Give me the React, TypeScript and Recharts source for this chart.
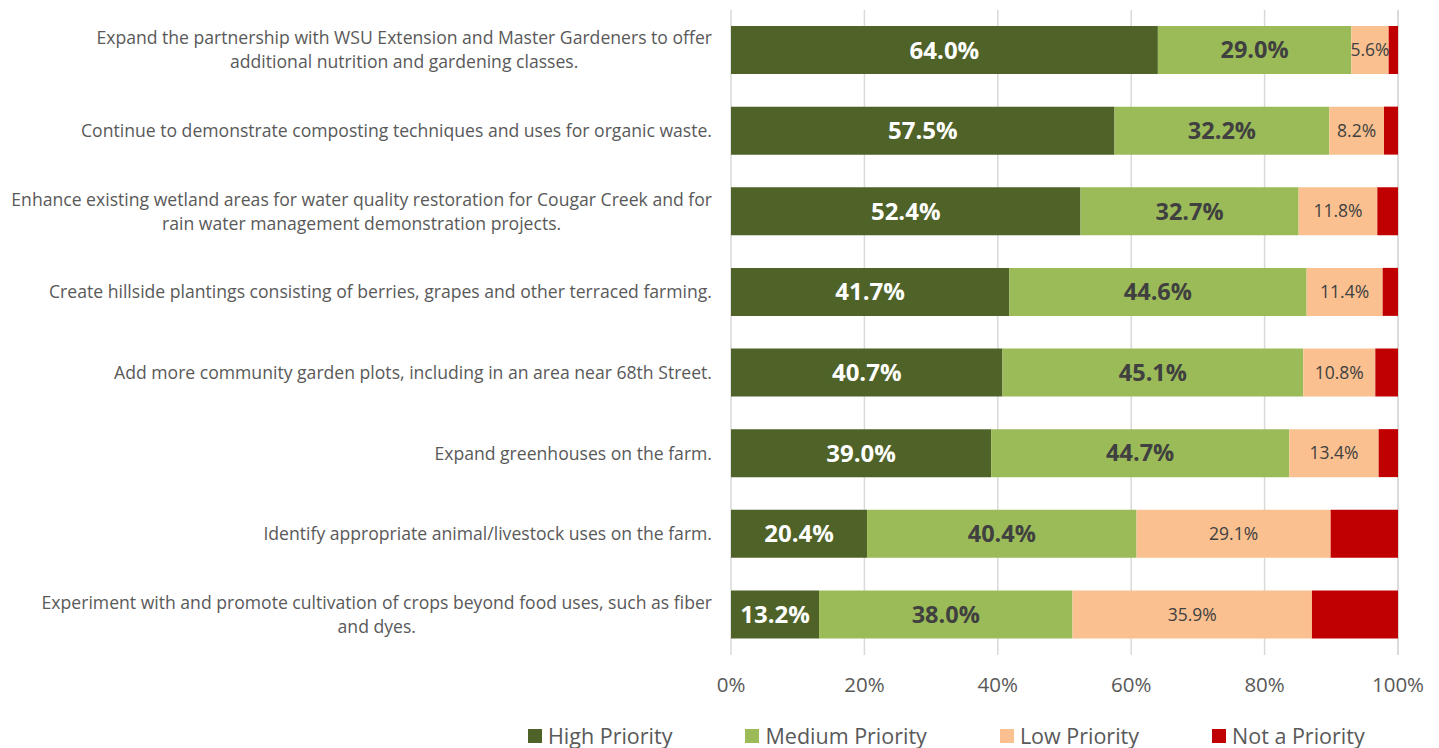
import { BarChart, Bar, XAxis, YAxis, CartesianGrid, LabelList } from 'recharts';

const categories = [
  'Expand the partnership with WSU Extension and Master Gardeners to offer\nadditional nutrition and gardening classes.',
  'Continue to demonstrate composting techniques and uses for organic waste.',
  'Enhance existing wetland areas for water quality restoration for Cougar Creek and for\nrain water management demonstration projects.',
  'Create hillside plantings consisting of berries, grapes and other terraced farming.',
  'Add more community garden plots, including in an area near 68th Street.',
  'Expand greenhouses on the farm.',
  'Identify appropriate animal/livestock uses on the farm.',
  'Experiment with and promote cultivation of crops beyond food uses, such as fiber\nand dyes.',
];
const highPriority = [64.0, 57.5, 52.4, 41.7, 40.7, 39.0, 20.4, 13.2];
const mediumPriority = [29.0, 32.2, 32.7, 44.6, 45.1, 44.7, 40.4, 38.0];
const lowPriority = [5.6, 8.2, 11.8, 11.4, 10.8, 13.4, 29.1, 35.9];
const notPriority = [1.4, 2.1, 3.1, 2.3, 3.4, 2.9, 10.1, 12.9];
const xTicks = [0, 20, 40, 60, 80, 100];

const series = [
  { key: 'high', name: 'High Priority', color: '#4F6228' },
  { key: 'medium', name: 'Medium Priority', color: '#9BBB59' },
  { key: 'low', name: 'Low Priority', color: '#FAC090' },
  { key: 'not', name: 'Not a Priority', color: '#C00000' },
];

const data = categories.map((name, i) => ({
  name,
  high: highPriority[i],
  medium: mediumPriority[i],
  low: lowPriority[i],
  not: notPriority[i],
}));

const FONT = "'Open Sans', sans-serif";
const LABEL_FONT_SIZE = 17.6;

let measureCtx: CanvasRenderingContext2D | null = null;
function measure(text: string) {
  if (!measureCtx) measureCtx = document.createElement('canvas').getContext('2d');
  if (!measureCtx) return text.length * 8.4;
  measureCtx.font = `${LABEL_FONT_SIZE}px 'Open Sans'`;
  return measureCtx.measureText(text).width;
}

function CategoryTick(props: any) {
  const { y, payload } = props;
  const lines: string[] = String(payload.value).split('\n');
  const right = 712;
  if (lines.length === 1) {
    return (
      <text x={right} y={y} dy="0.35em" textAnchor="end" fill="#595959" fontSize={LABEL_FONT_SIZE} fontFamily={FONT}>
        {lines[0]}
      </text>
    );
  }
  const maxW = Math.max(...lines.map(measure));
  const cx = right - maxW / 2;
  const lh = 24;
  const top = y - ((lines.length - 1) * lh) / 2;
  return (
    <text textAnchor="middle" fill="#595959" fontSize={LABEL_FONT_SIZE} fontFamily={FONT}>
      {lines.map((l, i) => (
        <tspan key={i} x={cx} y={top + i * lh} dy="0.35em">
          {l}
        </tspan>
      ))}
    </text>
  );
}

const pct = (v: any) => `${Number(v).toFixed(1)}%`;

export default function App() {
  return (
    <div style={{ position: 'absolute', left: 0, top: 0, width: 1439, height: 748, background: '#fff', fontFamily: FONT }}>
      <BarChart
        width={1439}
        height={748}
        data={data}
        layout="vertical"
        margin={{ top: 10, right: 41, bottom: 43, left: 0 }}
      >
        <CartesianGrid horizontal={false} stroke="#D9D9D9" strokeWidth={1.5} />
        <XAxis
          type="number"
          domain={[0, 100]}
          ticks={xTicks}
          tickFormatter={(v) => `${v}%`}
          axisLine={false}
          tickLine={false}
          tickMargin={16}
          height={50}
          tick={{ fill: '#595959', fontSize: 20.5, fontFamily: FONT }}
        />
        <YAxis
          type="category"
          dataKey="name"
          width={731}
          axisLine={false}
          tickLine={false}
          tick={<CategoryTick />}
          interval={0}
        />
        <Bar dataKey="high" stackId="a" fill="#4F6228" barSize={48} isAnimationActive={false}>
          <LabelList dataKey="high" position="center" formatter={pct} fill="#FFFFFF" fontSize={24} fontWeight="bold" fontFamily={FONT} />
        </Bar>
        <Bar dataKey="medium" stackId="a" fill="#9BBB59" barSize={48} isAnimationActive={false}>
          <LabelList dataKey="medium" position="center" formatter={pct} fill="#404040" fontSize={23.5} fontWeight="bold" fontFamily={FONT} />
        </Bar>
        <Bar dataKey="low" stackId="a" fill="#FAC090" barSize={48} isAnimationActive={false}>
          <LabelList dataKey="low" position="center" formatter={pct} fill="#404040" fontSize={17.5} fontFamily={FONT} />
        </Bar>
        <Bar dataKey="not" stackId="a" fill="#C00000" barSize={48} isAnimationActive={false} />
      </BarChart>
      <div
        style={{
          position: 'absolute',
          left: 528,
          top: 724,
          height: 24,
          lineHeight: '24px',
          display: 'flex',
          alignItems: 'center',
          fontSize: 21.5,
          color: '#595959',
          fontFamily: FONT,
        }}
      >
        {series.map((s, i) => (
          <div key={s.key} style={{ display: 'flex', alignItems: 'center', marginRight: i < series.length - 1 ? 73 : 0 }}>
            <span style={{ display: 'inline-block', width: 14, height: 14, background: s.color, marginRight: 6 }} />
            <span>{s.name}</span>
          </div>
        ))}
      </div>
    </div>
  );
}
